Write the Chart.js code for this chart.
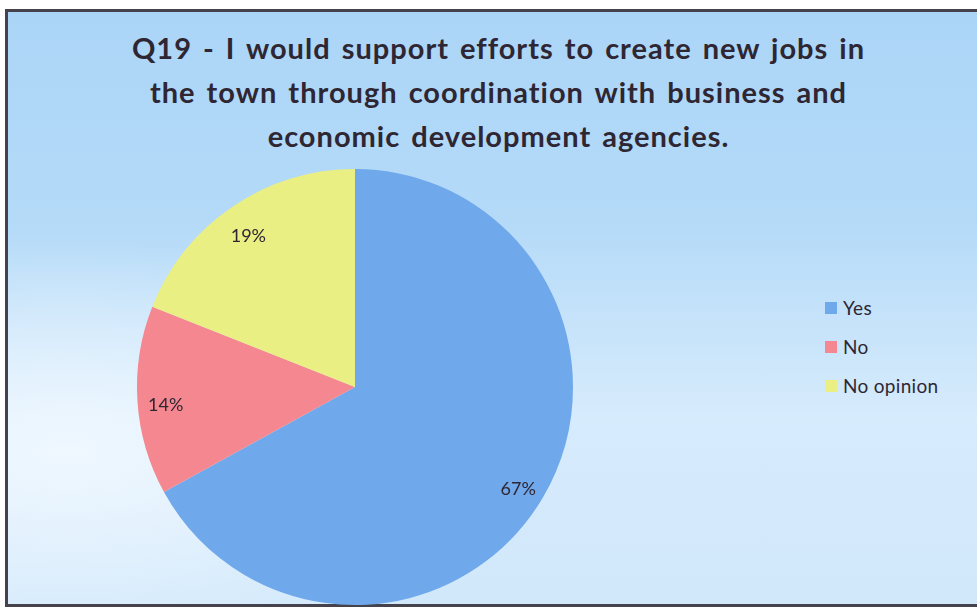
<!DOCTYPE html>
<html>
<head>
<meta charset="utf-8">
<script src="https://cdn.jsdelivr.net/npm/chart.js@4/dist/chart.umd.min.js"></script>
<style>
  html, body { margin: 0; padding: 0; background: #ffffff; }
  body { width: 977px; height: 607px; position: relative; overflow: hidden; }
  #frame {
    position: absolute; left: 5px; top: 9px; width: 990px; height: 592px;
    border: 3px solid #46424c; border-right: none;
    background:
      radial-gradient(ellipse 460px 210px at 60px 440px, rgba(242,249,255,0.9), rgba(242,249,255,0) 100%),
      linear-gradient(to bottom, #abd5f7 0%, #b4daf8 35%, #d6ebfc 68%, #d1e8fb 100%);
  }
  #title {
    position: absolute; left: 0; top: 26px; width: 997px; text-align: center;
    font-family: Lato, "Open Sans", sans-serif; font-weight: bold; font-size: 29px;
    letter-spacing: 1px; word-spacing: 3px;
    line-height: 44px; color: #2f2633;
  }
  #legend {
    position: absolute; left: 825px; top: 288px;
    font-family: Lato, "Open Sans", sans-serif; font-size: 19px; letter-spacing: 0.3px; color: #2f2633;
  }
  #legend .item { height: 39px; display: flex; align-items: center; white-space: nowrap; }
  #legend .sw { width: 12px; height: 12px; margin-right: 6px; }
  canvas { position: absolute; left: 0; top: 0; }
</style>
</head>
<body>
<div id="frame"></div>
<div id="title"></div>
<div id="legend"></div>
<canvas id="chart" width="977" height="607"></canvas>
<script>
// Survey question and answers
const titleLines = [
  "Q19 - I would support efforts to create new jobs in",
  "the town through coordination with business and",
  "economic development agencies."
];
const categories = ["Yes", "No", "No opinion"];
const shares = [67, 14, 19];
const sliceColors = ["#6fa8eb", "#f4878f", "#e9ef82"];

document.getElementById("title").innerHTML = titleLines.join("<br>");

const legend = document.getElementById("legend");
categories.forEach((name, i) => {
  const row = document.createElement("div");
  row.className = "item";
  const sw = document.createElement("span");
  sw.className = "sw";
  sw.style.background = sliceColors[i];
  row.appendChild(sw);
  row.appendChild(document.createTextNode(name));
  legend.appendChild(row);
});

// Percent labels placed inside each slice, near the rim
const sliceLabels = {
  id: "sliceLabels",
  afterDatasetsDraw(chart) {
    const ctx = chart.ctx;
    const meta = chart.getDatasetMeta(0);
    ctx.save();
    ctx.font = "18px Lato, 'Open Sans', sans-serif";
    ctx.fillStyle = "#2f2633";
    ctx.textAlign = "center";
    ctx.textBaseline = "middle";
    meta.data.forEach((arc, i) => {
      const mid = (arc.startAngle + arc.endAngle) / 2;
      const r = arc.outerRadius * 0.87;
      const x = arc.x + Math.cos(mid) * r;
      const y = arc.y + Math.sin(mid) * r + 6;
      ctx.fillText(shares[i] + "%", x, y);
    });
    ctx.restore();
  }
};

new Chart(document.getElementById("chart"), {
  type: "pie",
  data: {
    labels: categories,
    datasets: [{
      data: shares,
      backgroundColor: sliceColors,
      borderWidth: 0
    }]
  },
  options: {
    responsive: false,
    animation: false,
    layout: { padding: { left: 137, right: 404, top: 169, bottom: 2 } },
    plugins: {
      legend: { display: false },
      title: { display: false },
      tooltip: { enabled: false }
    }
  },
  plugins: [sliceLabels]
});
</script>
</body>
</html>
